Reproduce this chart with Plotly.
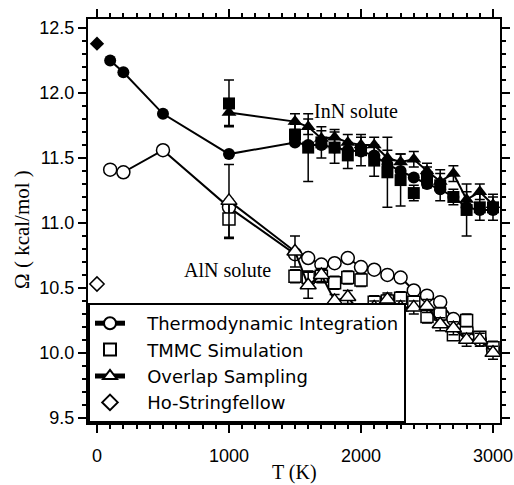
import plotly.graph_objects as go

# ---------------- data ----------------
T_ti = [100, 200, 500, 1000, 1500, 1600, 1700, 1800, 1900, 2000, 2100, 2200,
        2300, 2400, 2500, 2600, 2700, 2800, 2900, 3000]
T_mc = [1000, 1500, 1600, 1700, 1800, 1900, 2000, 2100, 2200, 2300, 2400,
        2500, 2600, 2700, 2800, 2900, 3000]

# AlN solute (open symbols)
aln_ti = [11.41, 11.39, 11.56, 11.12, 10.76, 10.73, 10.68, 10.69, 10.73, 10.66,
          10.64, 10.60, 10.58, 10.48, 10.44, 10.39, 10.26, 10.18, 10.10, 10.03]
aln_tmmc = [11.03, 10.59, 10.58, 10.59, 10.54, 10.58, 10.56, 10.39, 10.40, 10.42,
            10.39, 10.28, 10.30, 10.14, 10.25, 10.12, 10.04]
aln_tmmc_err = [0.15, 0.05, 0.05, 0.05, 0.05, 0.05, 0.05, 0.05, 0.05, 0.05,
                0.05, 0.05, 0.05, 0.04, 0.05, 0.04, 0.05]
aln_os = [11.17, 10.78, 10.52, 10.60, 10.40, 10.43, 10.30, 10.35, 10.41, 10.35,
          10.35, 10.36, 10.22, 10.19, 10.10, 10.10, 10.00]
aln_os_err = [0.28, 0.12, 0.10, 0.05, 0.05, 0.05, 0.05, 0.05, 0.05, 0.05,
              0.05, 0.05, 0.05, 0.05, 0.05, 0.05, 0.05]

# InN solute (filled symbols)
inn_ti = [12.25, 12.16, 11.84, 11.53, 11.62, 11.60, 11.60, 11.58, 11.56, 11.55,
          11.52, 11.45, 11.40, 11.35, 11.30, 11.26, 11.20, 11.12, 11.10, 11.10]
inn_tmmc = [11.92, 11.68, 11.58, 11.62, 11.58, 11.52, 11.56, 11.48, 11.39, 11.33,
            11.23, 11.35, 11.29, 11.20, 11.10, 11.12, 11.12]
inn_tmmc_err = [0.18, 0.08, 0.26, 0.12, 0.12, 0.10, 0.12, 0.12, 0.27, 0.20,
                0.06, 0.08, 0.12, 0.06, 0.20, 0.10, 0.10]
inn_os = [11.85, 11.78, 11.74, 11.65, 11.66, 11.62, 11.60, 11.60, 11.50, 11.47,
          11.49, 11.40, 11.32, 11.38, 11.18, 11.24, 11.14]
inn_os_err = [0.10, 0.06, 0.06, 0.06, 0.06, 0.06, 0.06, 0.06, 0.06, 0.06,
              0.06, 0.06, 0.06, 0.06, 0.06, 0.06, 0.06]

hs_T = [0]
hs_aln = [10.53]
hs_inn = [12.38]

legend_names = ["Thermodynamic Integration", "TMMC Simulation",
                "Overlap Sampling", "Ho-Stringfellow"]
x_title = "T (K)"
y_title = "Ω ( kcal/mol )"

SANS = "Liberation Sans, Arial, sans-serif"
LEGSANS = "DejaVu Sans, sans-serif"
SERIF = "Liberation Serif, Times New Roman, serif"
BLK = "black"
PAD = "\u00a0\u00a0\u00a0"

fig = go.Figure()

def err(vals):
    return dict(type="data", array=vals, visible=True, color=BLK,
                thickness=1.5, width=5)

# InN (filled, no legend)
fig.add_trace(go.Scatter(x=T_ti, y=inn_ti, mode="lines+markers", showlegend=False,
                         line=dict(color=BLK, width=2),
                         marker=dict(symbol="circle", size=12, color=BLK)))
fig.add_trace(go.Scatter(x=T_mc, y=inn_os, mode="lines+markers", showlegend=False,
                         line=dict(color=BLK, width=2), error_y=err(inn_os_err),
                         marker=dict(symbol="triangle-up", size=13, color=BLK)))
fig.add_trace(go.Scatter(x=T_mc, y=inn_tmmc, mode="markers", showlegend=False,
                         error_y=err(inn_tmmc_err),
                         marker=dict(symbol="square", size=12, color=BLK)))
fig.add_trace(go.Scatter(x=hs_T, y=hs_inn, mode="markers", showlegend=False,
                         marker=dict(symbol="diamond", size=11, color=BLK)))

# AlN (open, with legend)
fig.add_trace(go.Scatter(x=T_ti, y=aln_ti, mode="lines+markers", name=PAD + legend_names[0],
                         line=dict(color=BLK, width=2),
                         marker=dict(symbol="circle", size=13, color="white",
                                     line=dict(color=BLK, width=1.5))))
fig.add_trace(go.Scatter(x=T_mc, y=aln_tmmc, mode="markers", name=PAD + legend_names[1],
                         error_y=err(aln_tmmc_err),
                         marker=dict(symbol="square", size=12, color="white",
                                     line=dict(color=BLK, width=1.5))))
fig.add_trace(go.Scatter(x=T_mc, y=aln_os, mode="lines+markers", name=PAD + legend_names[2],
                         line=dict(color=BLK, width=2), error_y=err(aln_os_err),
                         marker=dict(symbol="triangle-up", size=14, color="white",
                                     line=dict(color=BLK, width=1.5))))
fig.add_trace(go.Scatter(x=hs_T, y=hs_aln, mode="markers", name=PAD + legend_names[3],
                         marker=dict(symbol="diamond", size=11, color="white",
                                     line=dict(color=BLK, width=1.5))))

fig.add_annotation(x=1962, y=11.86, text="InN solute", showarrow=False,
                   font=dict(family=SERIF, size=20, color=BLK))
fig.add_annotation(x=992, y=10.64, text="AlN solute", showarrow=False,
                   font=dict(family=SERIF, size=20, color=BLK))
# axis titles
fig.add_annotation(xref="paper", yref="paper", x=0.5, y=-0.122, text=x_title,
                   showarrow=False, xanchor="center", yanchor="middle",
                   font=dict(family=SERIF, size=20, color=BLK))
fig.add_annotation(xref="paper", yref="paper", x=-0.16, y=0.478, text=y_title,
                   showarrow=False, textangle=-90, xanchor="center", yanchor="middle",
                   font=dict(family=SERIF, size=21, color=BLK))

axis_common = dict(showline=True, linecolor=BLK, linewidth=2, mirror="allticks",
                   ticks="outside", ticklen=8, tickwidth=2, tickcolor=BLK,
                   showgrid=False, zeroline=False, automargin=False,
                   tickfont=dict(family=SANS, size=18, color=BLK))

fig.update_xaxes(range=[-68, 3053], tickvals=[0, 1000, 2000, 3000],
                 ticktext=["0", "1000", "2000", "3000"],
                 ticklabelstandoff=7,
                 minor=dict(dtick=100, tick0=0, ticks="outside", ticklen=4,
                            tickwidth=1.5, tickcolor=BLK),
                 **axis_common)
fig.update_yaxes(range=[9.46, 12.57], tickvals=[9.5, 10.0, 10.5, 11.0, 11.5, 12.0, 12.5],
                 ticktext=["9.5", "10.0", "10.5", "11.0", "11.5", "12.0", "12.5"],
                 minor=dict(dtick=0.1, tick0=9.5, ticks="outside", ticklen=4,
                            tickwidth=1.5, tickcolor=BLK),
                 **axis_common)

fig.update_layout(
    width=514, height=485,
    margin=dict(l=88, r=14, t=19, b=62, autoexpand=False),
    paper_bgcolor="white", plot_bgcolor="white",
    legend=dict(x=0, y=0, xanchor="left", yanchor="bottom",
                bgcolor="white", bordercolor=BLK, borderwidth=2,
                font=dict(family=LEGSANS, size=18, color=BLK),
                tracegroupgap=0, itemsizing="constant"),
)

fig.write_html("out.html")
